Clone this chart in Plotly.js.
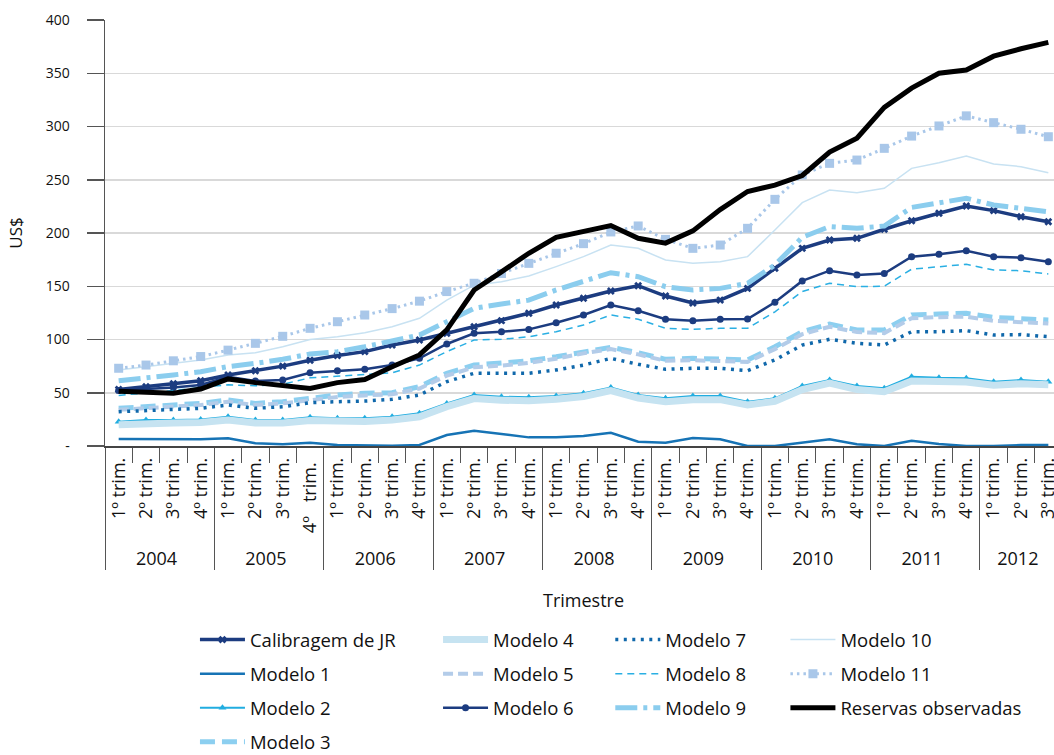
<!DOCTYPE html>
<html>
<head>
<meta charset="utf-8">
<script src="https://cdn.plot.ly/plotly-3.0.1.min.js"></script>
<style>
  html, body { margin: 0; padding: 0; overflow: hidden; background: #ffffff; }
  #chart { width: 1062px; height: 770px; }
</style>
</head>
<body>
<div id="chart"></div>
<script>
// ---- Tick labels / categories ----
const years = ['2004', '2005', '2006', '2007', '2008', '2009', '2010', '2011', '2012'];
const quarterLabels = ['1º trim.', '2º trim.', '3º trim.', '4º trim.'];
// the 2005 4th-quarter label is spaced differently in the original
const quarterLabelOverride = {7: '4º\u00a0\u00a0\u00a0trim.\u00a0'};
const nQuarters = 35; // 2004 Q1 .. 2012 Q3

// ---- Series values (US$) ----
const calibragemJR = [53, 55.7, 58.5, 61.3, 66.7, 70.7, 75, 80.5, 85, 88.6, 94.8, 99.5, 105.8, 112, 117.7, 124.6, 132.4, 138.7, 145.5, 150.5, 140.8, 134.3, 137, 148, 166.8, 185.6, 193.4, 195, 203.5, 211.5, 218.5, 225.4, 221, 215.3, 210.6];
const modelo1 = [6.5, 6.5, 6, 6.3, 7.2, 2.5, 1.6, 3.1, 0.9, 0.3, 0.3, 1, 10.3, 14.4, 11.3, 8.1, 8.1, 9.4, 12.5, 4, 3.1, 7.5, 6.3, 0, 0, 3.1, 6.3, 1.6, 0, 5, 1.9, 0, 0, 0.9, 0.9];
const modelo2 = [22.8, 24.4, 24.4, 25, 27.5, 24.4, 24.4, 26.9, 26, 26, 27.5, 30.7, 40, 47.9, 46.3, 45.7, 47, 49.5, 55, 47.9, 44.8, 47, 47, 41.6, 44.8, 56.3, 62, 56.3, 54.2, 65, 64, 63.6, 60.4, 62, 60.4];
const modelo3 = [35.4, 37, 38.5, 40, 43.2, 40, 41.6, 44.8, 47.9, 49.5, 50, 55.7, 68.3, 76, 77.6, 80, 83.8, 88.6, 92.7, 87.6, 81.4, 82.3, 81.4, 80.8, 93.2, 107.3, 114.5, 109, 109, 123, 124, 124.6, 120.8, 119.9, 118.3];
const modelo4 = [20, 21.5, 21.5, 22, 24.5, 21.5, 21.5, 24, 23, 23, 24.5, 27.5, 37, 44.5, 43, 42.5, 44, 46.5, 52, 45, 41.5, 43.5, 43.5, 38.5, 42, 53, 59, 53, 51, 61, 60.5, 60, 57, 58.5, 57.5];
const modelo5 = [34, 35.5, 37, 38.5, 41.5, 38.5, 40, 43, 46, 47.5, 48.5, 54, 66, 74, 75.5, 78, 82, 87, 91, 86, 80, 80.5, 80, 79, 91, 105, 112, 107, 106, 120, 121, 121.5, 117.5, 116.5, 115];
const modelo6 = [52, 53.2, 55, 57.3, 65, 61, 62, 68.8, 70.7, 72, 76, 82.3, 95.8, 105.8, 107.3, 109.5, 115.8, 123, 132.4, 127, 119, 117.7, 119, 119.2, 135, 155, 164.6, 160.6, 162, 177.8, 180, 183.4, 177.8, 176.8, 173];
const modelo7 = [32.2, 33.2, 33.8, 35.4, 38.5, 35.4, 36.9, 40.7, 41.6, 42.2, 43.8, 47.9, 60.4, 68.3, 68.3, 68.3, 71.4, 76, 82.3, 76.7, 72, 73, 73, 70.7, 80.8, 94.8, 100.2, 96.4, 94.8, 107.3, 107.3, 108.3, 104.2, 104.6, 102.6];
const modelo8 = [47.5, 49.5, 52, 55, 57.5, 56.5, 58, 64, 65.5, 66.7, 68.8, 76, 88.6, 99.5, 100.2, 102.6, 107.3, 113.6, 123, 119, 110.5, 109.5, 110.5, 110.5, 126, 145, 152.8, 149.6, 150, 166, 168.4, 170.6, 165.3, 164.6, 161.5];
const modelo9 = [61.3, 63.6, 66.7, 69.8, 74.5, 77.6, 81.4, 86.4, 88.6, 93.2, 98.9, 104.2, 116.7, 129.3, 133.3, 137, 146.5, 154.3, 162.7, 159, 149.6, 146.5, 148, 152.8, 170, 196, 206, 204.4, 206.6, 224, 228.5, 232.6, 226.3, 223, 220];
const modelo10 = [71.4, 74.5, 77, 80.8, 85.4, 87.6, 93.2, 100, 102.6, 106.4, 112, 119.9, 137, 151, 154.3, 159.6, 168.4, 177.8, 188.7, 185.6, 174.6, 171.5, 173, 177.8, 202.8, 228.5, 240.4, 237.9, 242, 260.7, 266, 272.3, 264.8, 262.3, 256.6];
const modelo11 = [73, 76, 80, 84, 90, 96.4, 103, 110.5, 116.7, 123, 129, 136, 145, 152.8, 162, 171.5, 181, 190, 201, 206.6, 194, 185.6, 188.7, 204.4, 231.6, 254.5, 265.4, 268.5, 279.5, 291, 300.5, 310, 303.6, 297.4, 290.4];
const reservasObservadas = [51.5, 50, 49.5, 53.5, 63, 59.5, 57, 54, 59.5, 62.5, 74.5, 85.5, 109, 146.5, 163.5, 181, 196, 201.5, 207, 195, 190.5, 202, 222, 239, 245, 254, 276, 289, 318, 336, 350, 353, 366, 373, 379];

// y-axis ticks
const yTickVals = [0, 50, 100, 150, 200, 250, 300, 350, 400];
const yTickText = ['-', '50', '100', '150', '200', '250', '300', '350', '400'];

// ---- Build multicategory x ----
const xYear = [], xQuarter = [];
for (let i = 0; i < nQuarters; i++) {
  xYear.push(years[Math.floor(i / 4)]);
  xQuarter.push(quarterLabelOverride[i] || quarterLabels[i % 4]);
}
const xCats = [xYear, xQuarter];

const FONT = 'Open Sans, Noto Sans, sans-serif';

function tr(name, y, line, legend, extra) {
  return Object.assign({
    type: 'scatter',
    mode: 'lines',
    name: name,
    x: xCats,
    y: y,
    line: line,
    legend: legend,
    legendgroup: name,
    hoverinfo: 'skip'
  }, extra || {});
}

const traces = [
  tr('Calibragem de JR', calibragemJR, {color: '#1c3c80', width: 3.5}, 'legend',
     {mode: 'lines+markers', marker: {symbol: 'x', size: 7, color: '#1c3c80'}}),
  tr('Modelo 1', modelo1, {color: '#1673b5', width: 2.5}, 'legend'),
  tr('Modelo 2', modelo2, {color: '#21ade0', width: 2}, 'legend',
     {mode: 'lines+markers', marker: {symbol: 'triangle-up', size: 7, color: '#21ade0'}}),
  tr('Modelo 3', modelo3, {color: '#8ccff0', width: 5, dash: '15px,7px'}, 'legend'),
  tr('Modelo 4', modelo4, {color: '#c6e3f1', width: 7}, 'legend2'),
  tr('Modelo 5', modelo5, {color: '#b3cce9', width: 4, dash: '10px,5px'}, 'legend2'),
  tr('Modelo 6', modelo6, {color: '#1c3c80', width: 2.5}, 'legend2',
     {mode: 'lines+markers', marker: {symbol: 'circle', size: 7, color: '#1c3c80'}}),
  tr('Modelo 7', modelo7, {color: '#1068ab', width: 3.5, dash: '3px,5.5px'}, 'legend3'),
  tr('Modelo 8', modelo8, {color: '#2aafe3', width: 1.5, dash: '7px,5px'}, 'legend3'),
  tr('Modelo 9', modelo9, {color: '#8bcdee', width: 5, dash: '22px,6px,4px,6px'}, 'legend3'),
  tr('Modelo 10', modelo10, {color: '#c8e2f2', width: 1.5}, 'legend4'),
  tr('Modelo 11', modelo11, {color: '#a9c7e9', width: 3, dash: '2.5px,4px'}, 'legend4',
     {mode: 'lines+markers', marker: {symbol: 'square', size: 9, color: '#a9c7e9'}}),
  tr('Reservas observadas', reservasObservadas, {color: '#000000', width: 5}, 'legend4')
];

// legend geometry (paper coords: plot area x 105..1062, y 20..446)
const legendFont = {family: FONT, size: 18.5, color: '#111111'};
function leg(x) {
  return {
    x: x, y: -0.411, xanchor: 'left', yanchor: 'top',
    orientation: 'v', font: legendFont, bgcolor: 'rgba(0,0,0,0)',
    tracegroupgap: 7, itemwidth: 45, itemclick: false, itemdoubleclick: false
  };
}

const layout = {
  width: 1062,
  height: 770,
  margin: {l: 105, r: 0, t: 20, b: 324},
  paper_bgcolor: '#ffffff',
  plot_bgcolor: '#ffffff',
  font: {family: FONT, color: '#111111'},
  showlegend: true,
  legend: leg(0.094),
  legend2: leg(0.348),
  legend3: leg(0.528),
  legend4: leg(0.711),
  xaxis: {
    type: 'multicategory',
    range: [-0.5, nQuarters - 0.5],
    autorange: false,
    showline: true, linecolor: '#444444', linewidth: 1.5,
    ticks: 'outside', ticklen: 15, tickcolor: '#555555', tickwidth: 1,
    tickangle: -90,
    ticklabelstandoff: 3,
    tickfont: {family: FONT, size: 18, color: '#111111'},
    showdividers: true, dividercolor: '#555555', dividerwidth: 1,
    showgrid: false, zeroline: false,
    title: {text: 'Trimestre', font: {family: FONT, size: 18, color: '#111111'}, standoff: 26},
    automargin: false
  },
  yaxis: {
    range: [0, 400],
    tickmode: 'array', tickvals: yTickVals, ticktext: yTickText,
    showline: true, linecolor: '#555555', linewidth: 1.5,
    ticks: 'outside', ticklen: 17, tickcolor: '#555555', tickwidth: 1.5,
    tickfont: {family: FONT, size: 14, color: '#111111'},
    ticklabelstandoff: 14,
    showgrid: true, gridcolor: '#d9d9d9', gridwidth: 1.5,
    zeroline: false,
    title: {text: 'US$', font: {family: FONT, size: 17, color: '#111111'}, standoff: 18},
    automargin: false
  }
};

Plotly.newPlot('chart', traces, layout, {displayModeBar: false, staticPlot: true});
</script>
</body>
</html>
